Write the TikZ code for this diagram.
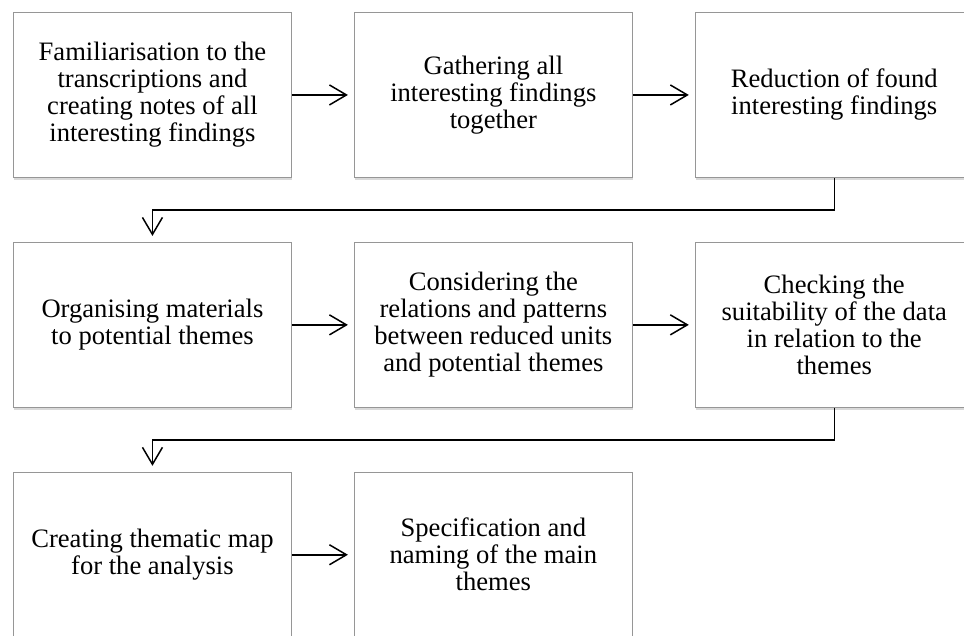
\documentclass[tikz,border=0pt]{standalone}
\usepackage{fontspec}
\setmainfont{Liberation Serif}
\usepackage{tikz}
\usetikzlibrary{arrows.meta, positioning, shadows}
\definecolor{boxgray}{RGB}{150,150,150}

\begin{document}
\begin{tikzpicture}[
      x=1pt, y=1pt,
      node distance=64pt and 62pt,
      box/.style={draw=boxgray, line width=0.9pt, fill=white, minimum width=278pt,
                  minimum height=165pt, align=center,
                  font=\fontsize{26.6}{27}\selectfont,
                  drop shadow={shadow xshift=1pt, shadow yshift=-2.5pt, opacity=0.3}},
      arr/.style={-{Straight Barb[length=17pt, width=20pt, line width=1.5pt]},
                  line width=1.5pt, shorten >=6pt}
  ]
    \useasboundingbox (0,0) rectangle (964,-635);
    \clip (0,0) rectangle (964,-635);

    \node[box, anchor=north west] (familiar) at (13,-12)
          {Familiarisation to the\\transcriptions and\\creating notes of all\\interesting findings};
    \node[box, right=of familiar] (gather) {Gathering all\\interesting findings\\together};
    \node[box, right=of gather]   (reduce) {Reduction of found\\interesting findings};

    \node[box, below=of familiar] (organise) {Organising materials\\to potential themes};
    \node[box, right=of organise] (consider) {Considering the\\relations and patterns\\between reduced units\\and potential themes};
    \node[box, right=of consider] (check)    {Checking the\\suitability of the data\\in relation to the\\themes};

    \node[box, below=of organise] (mapping) {Creating thematic map\\for the analysis};
    \node[box, right=of mapping]  (naming)  {Specification and\\naming of the main\\themes};

    \draw[arr] (familiar) -- (gather);
    \draw[arr] (gather)   -- (reduce);
    \draw[arr] (organise) -- (consider);
    \draw[arr] (consider) -- (check);
    \draw[arr] (mapping)  -- (naming);

    % row changes
    \draw[arr] (reduce.south) -- ++(0,-32) -| (organise.north);
    \draw[arr] (check.south)  -- ++(0,-32) -| (mapping.north);
  \end{tikzpicture}
\end{document}
